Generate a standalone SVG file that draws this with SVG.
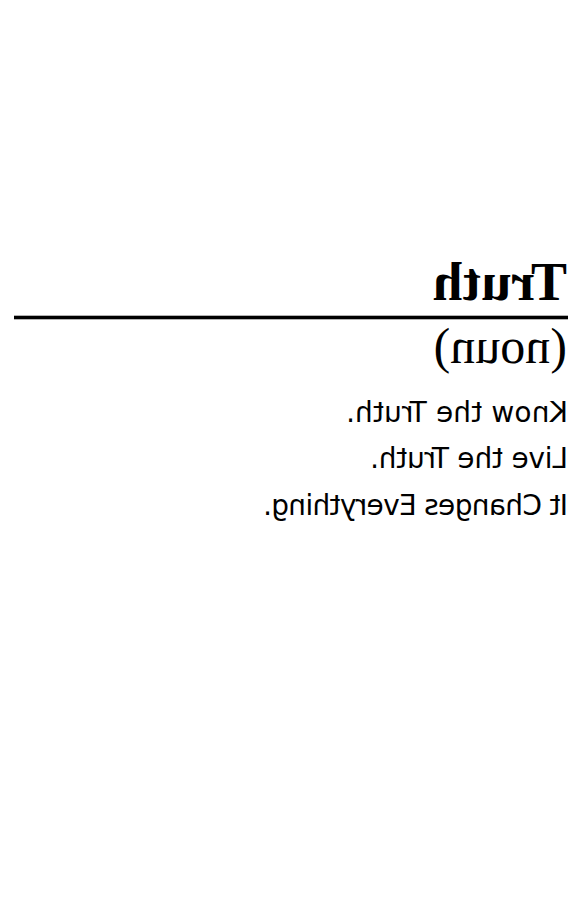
<svg xmlns="http://www.w3.org/2000/svg" width="576" height="900" viewBox="0 0 576 900">
<style>
.title{font-family:"Liberation Serif","Times New Roman",serif;font-weight:bold;font-size:54px;fill:#000}
.pos{font-family:"Liberation Serif","Times New Roman",serif;font-size:50px;fill:#000}
.line{font-family:"DejaVu Sans",sans-serif;font-size:28px;fill:#000}
</style>
<rect width="576" height="900" fill="#fff"/>
<g id="rule"><rect x="14" y="315.7" width="554" height="3.6" fill="#000"/></g>
<g id="texts" transform="translate(576,0) scale(-1,1)">
<g id="title"><text class="title" x="9" y="300">Truth</text></g>
<g id="pos"><text class="pos" x="9" y="363">(noun)</text></g>
<g id="l1"><text class="line" x="8" y="421.7" textLength="222" lengthAdjust="spacing">Know the Truth.</text></g>
<g id="l2"><text class="line" x="8" y="468.3" textLength="198" lengthAdjust="spacing">Live the Truth.</text></g>
<g id="l3"><text class="line" x="8" y="515" textLength="305" lengthAdjust="spacing">It Changes Everything.</text></g>
</g>
</svg>
